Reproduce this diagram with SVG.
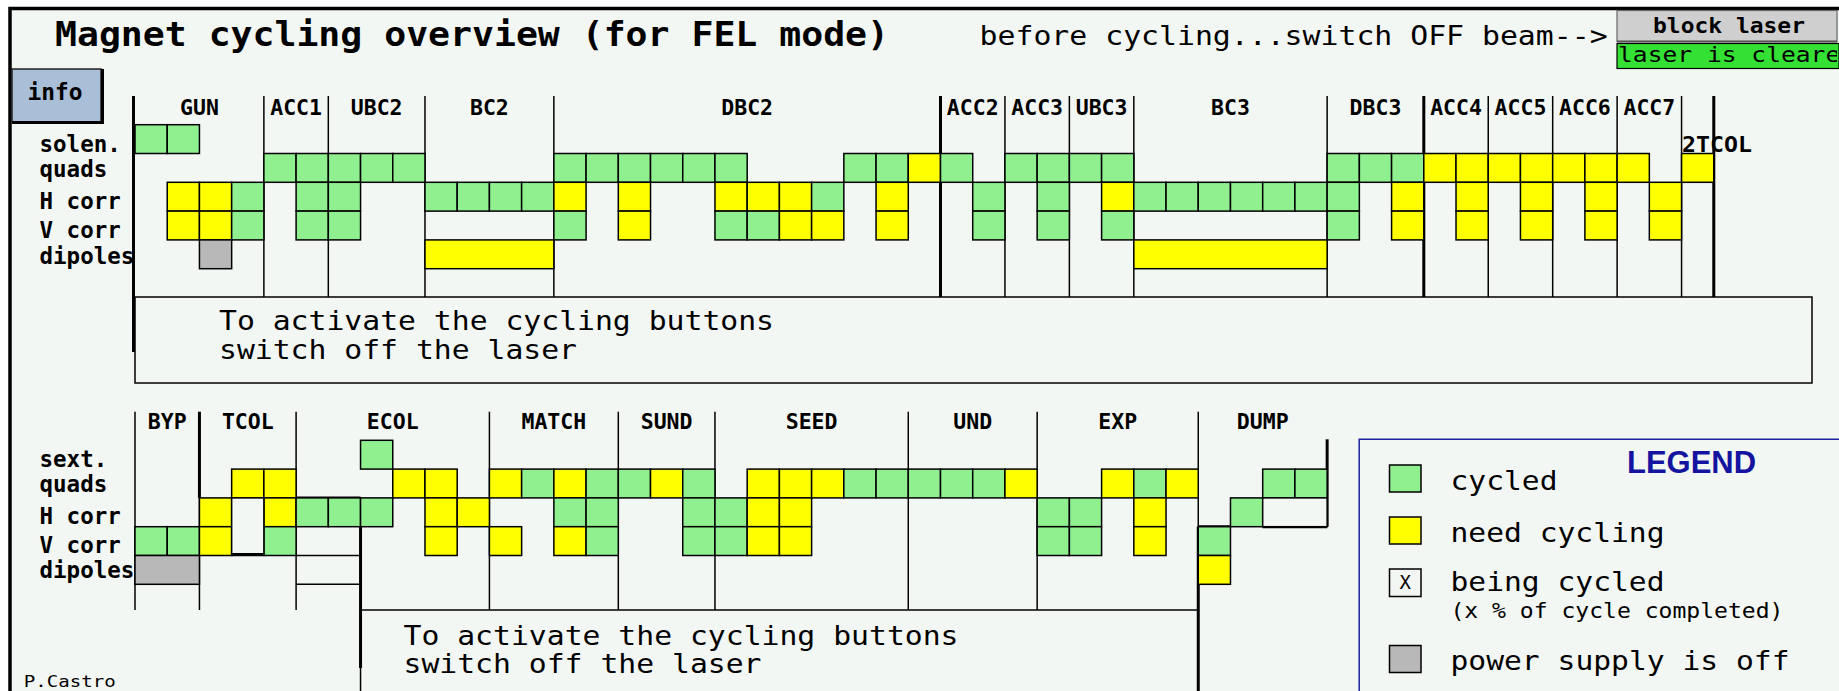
<svg xmlns="http://www.w3.org/2000/svg" xmlns:xlink="http://www.w3.org/1999/xlink" width="1839" height="691" viewBox="0 0 1839 691">
<style>
.t{font-family:'DejaVu Sans Mono','Liberation Mono',monospace;fill:#000}
.b{font-weight:bold}
.lab{font-size:21.5px;font-weight:bold;text-anchor:middle}
.row{font-size:22.5px;font-weight:bold}
.big{font-size:27px}
.G{fill:#90f090;stroke:#000;stroke-width:1.5}
.Y{fill:#ffff00;stroke:#000;stroke-width:1.5}
.O{fill:#b8b8b8;stroke:#000;stroke-width:1.5}
.E{fill:#f3f7f3;stroke:#000;stroke-width:1.5}
.ln{stroke:#000;stroke-width:1.5;fill:none}
.tk{stroke:#000;stroke-width:3;fill:none}
</style>
<defs>
<rect id="c" width="32.22" height="28.8"/>
<clipPath id="clipGreen"><rect x="1617" y="43.5" width="220" height="25"/></clipPath>
</defs>
<rect x="0" y="0" width="1839" height="691" fill="#ffffff"/>
<rect x="10" y="8.5" width="1850" height="700" fill="#f3f7f3" stroke="#000" stroke-width="3.5"/>

<g id="header">
<text class="t b" x="55" y="46" font-size="34" textLength="834" lengthAdjust="spacingAndGlyphs">Magnet cycling overview (for FEL mode)</text>
<text class="t" x="979.6" y="45" font-size="26" textLength="628" lengthAdjust="spacingAndGlyphs">before cycling...switch OFF beam--&gt;</text>
</g>

<g id="info-button">
<rect x="12" y="69" width="89" height="53" fill="#a9bfd7" stroke="#222" stroke-width="1.5"/>
<path d="M12,122.5 H102.5 V69" class="tk"/>
<text class="t b" x="27.5" y="100" font-size="23" textLength="55" lengthAdjust="spacingAndGlyphs">info</text>
</g>

<g id="block-laser">
<rect x="1617" y="10.5" width="220" height="31" fill="#cfcfcf" stroke="#666" stroke-width="1.2"/>
<line x1="1617" y1="41.5" x2="1837" y2="41.5" stroke="#555" stroke-width="2"/>
<text class="t b" x="1653" y="33" font-size="22" textLength="152" lengthAdjust="spacingAndGlyphs">block laser</text>
<rect x="1617" y="43.5" width="222" height="25" fill="#35e035" stroke="#000" stroke-width="1.2"/>
<g clip-path="url(#clipGreen)"><text class="t" x="1618" y="61.5" font-size="22" textLength="237" lengthAdjust="spacingAndGlyphs">laser is cleared</text></g>
</g>

<g id="row-labels-top">
<text class="t row" x="39.5" y="152">solen.</text>
<text class="t row" x="39.5" y="177">quads</text>
<text class="t row" x="39.5" y="209">H corr</text>
<text class="t row" x="39.5" y="238">V corr</text>
<text class="t row" x="39.5" y="264">dipoles</text>
</g>
<g id="row-labels-bottom">
<text class="t row" x="39.5" y="467">sext.</text>
<text class="t row" x="39.5" y="492">quads</text>
<text class="t row" x="39.5" y="524">H corr</text>
<text class="t row" x="39.5" y="553">V corr</text>
<text class="t row" x="39.5" y="578">dipoles</text>
</g>

<g id="connectors">
<line class="tk" x1="133.5" y1="96" x2="133.5" y2="352"/>
<line class="ln" x1="263.88" y1="96" x2="263.88" y2="297"/>
<line class="ln" x1="328.32" y1="96" x2="328.32" y2="297"/>
<line class="ln" x1="424.98" y1="96" x2="424.98" y2="297"/>
<line class="ln" x1="553.86" y1="96" x2="553.86" y2="297"/>
<line class="tk" x1="940.5" y1="96" x2="940.5" y2="297"/>
<line class="ln" x1="1004.94" y1="96" x2="1004.94" y2="297"/>
<line class="ln" x1="1069.38" y1="96" x2="1069.38" y2="297"/>
<line class="ln" x1="1133.82" y1="96" x2="1133.82" y2="297"/>
<line class="ln" x1="1327.14" y1="96" x2="1327.14" y2="297"/>
<line class="tk" x1="1423.8" y1="96" x2="1423.8" y2="297"/>
<line class="ln" x1="1488.24" y1="96" x2="1488.24" y2="297"/>
<line class="ln" x1="1552.68" y1="96" x2="1552.68" y2="297"/>
<line class="ln" x1="1617.12" y1="96" x2="1617.12" y2="297"/>
<line class="ln" x1="1681.56" y1="96" x2="1681.56" y2="297"/>
<line class="tk" x1="1713.78" y1="96" x2="1713.78" y2="297"/>

<line class="ln" x1="135" y1="411.7" x2="135" y2="610"/>
<line class="tk" x1="199.44" y1="411.7" x2="199.44" y2="497.9"/>
<line class="ln" x1="199.44" y1="497.9" x2="199.44" y2="610"/>
<line class="ln" x1="296.1" y1="411.7" x2="296.1" y2="610"/>
<line class="ln" x1="489.42" y1="411.7" x2="489.42" y2="610"/>
<line class="ln" x1="618.3" y1="411.7" x2="618.3" y2="610"/>
<line class="ln" x1="714.96" y1="411.7" x2="714.96" y2="610"/>
<line class="ln" x1="908.28" y1="411.7" x2="908.28" y2="610"/>
<line class="ln" x1="1037.16" y1="411.7" x2="1037.16" y2="610"/>
<line class="ln" x1="1198.26" y1="411.7" x2="1198.26" y2="526.7"/>
<line class="tk" x1="1198.26" y1="526.7" x2="1198.26" y2="691"/>
<line class="tk" x1="296.1" y1="497.9" x2="360.54" y2="497.9"/>
<line class="ln" x1="296.1" y1="555.5" x2="360.54" y2="555.5"/>
<line class="ln" x1="296.1" y1="584.3" x2="360.54" y2="584.3"/>
<line class="tk" x1="360.54" y1="526.7" x2="360.54" y2="668"/>
<line class="ln" x1="360.54" y1="610" x2="360.54" y2="691"/>
<line class="ln" x1="360.54" y1="610" x2="1198.26" y2="610"/>
<line class="tk" x1="1327.14" y1="439.3" x2="1327.14" y2="526.7"/>
<line class="tk" x1="1198.26" y1="526.7" x2="1230.48" y2="526.7"/>
<line class="tk" x1="1262.7" y1="526.7" x2="1327.14" y2="526.7"/>
</g>

<g id="top-message">
<rect class="ln" x="135" y="297" width="1677" height="86"/>
<text class="t big" x="219" y="330" textLength="555" lengthAdjust="spacingAndGlyphs">To activate the cycling buttons</text>
<text class="t big" x="219" y="359" textLength="358" lengthAdjust="spacingAndGlyphs">switch off the laser</text>
</g>

<g id="bottom-message">
<text class="t big" x="403.5" y="645" textLength="555" lengthAdjust="spacingAndGlyphs">To activate the cycling buttons</text>
<text class="t big" x="403.5" y="673" textLength="358" lengthAdjust="spacingAndGlyphs">switch off the laser</text>
</g>

<g id="GUN">
<text class="t lab" x="199.44" y="115">GUN</text>
<use xlink:href="#c" class="G" x="135" y="124.7"/><use xlink:href="#c" class="G" x="167.22" y="124.7"/>
<use xlink:href="#c" class="Y" x="167.22" y="182.3"/><use xlink:href="#c" class="Y" x="199.44" y="182.3"/><use xlink:href="#c" class="G" x="231.66" y="182.3"/>
<use xlink:href="#c" class="Y" x="167.22" y="211.1"/><use xlink:href="#c" class="Y" x="199.44" y="211.1"/><use xlink:href="#c" class="G" x="231.66" y="211.1"/>
<use xlink:href="#c" class="O" x="199.44" y="239.9"/>
</g>
<g id="ACC1">
<text class="t lab" x="296.1" y="115">ACC1</text>
<use xlink:href="#c" class="G" x="263.88" y="153.5"/><use xlink:href="#c" class="G" x="296.1" y="153.5"/>
<use xlink:href="#c" class="G" x="296.1" y="182.3"/><use xlink:href="#c" class="G" x="296.1" y="211.1"/>
</g>
<g id="UBC2">
<text class="t lab" x="376.65" y="115">UBC2</text>
<use xlink:href="#c" class="G" x="328.32" y="153.5"/><use xlink:href="#c" class="G" x="360.54" y="153.5"/><use xlink:href="#c" class="G" x="392.76" y="153.5"/>
<use xlink:href="#c" class="G" x="328.32" y="182.3"/><use xlink:href="#c" class="G" x="328.32" y="211.1"/>
</g>
<g id="BC2">
<text class="t lab" x="489.42" y="115">BC2</text>
<use xlink:href="#c" class="G" x="424.98" y="182.3"/><use xlink:href="#c" class="G" x="457.2" y="182.3"/><use xlink:href="#c" class="G" x="489.42" y="182.3"/><use xlink:href="#c" class="G" x="521.64" y="182.3"/>
<rect class="Y" x="424.98" y="239.9" width="128.88" height="28.8"/>
</g>
<g id="DBC2">
<text class="t lab" x="747.18" y="115">DBC2</text>
<use xlink:href="#c" class="G" x="553.86" y="153.5"/><use xlink:href="#c" class="G" x="586.08" y="153.5"/><use xlink:href="#c" class="G" x="618.3" y="153.5"/><use xlink:href="#c" class="G" x="650.52" y="153.5"/><use xlink:href="#c" class="G" x="682.74" y="153.5"/><use xlink:href="#c" class="G" x="714.96" y="153.5"/>
<use xlink:href="#c" class="G" x="843.84" y="153.5"/><use xlink:href="#c" class="G" x="876.06" y="153.5"/><use xlink:href="#c" class="Y" x="908.28" y="153.5"/>
<use xlink:href="#c" class="Y" x="553.86" y="182.3"/><use xlink:href="#c" class="Y" x="618.3" y="182.3"/><use xlink:href="#c" class="Y" x="714.96" y="182.3"/><use xlink:href="#c" class="Y" x="747.18" y="182.3"/><use xlink:href="#c" class="Y" x="779.4" y="182.3"/><use xlink:href="#c" class="G" x="811.62" y="182.3"/><use xlink:href="#c" class="Y" x="876.06" y="182.3"/>
<use xlink:href="#c" class="G" x="553.86" y="211.1"/><use xlink:href="#c" class="Y" x="618.3" y="211.1"/><use xlink:href="#c" class="G" x="714.96" y="211.1"/><use xlink:href="#c" class="G" x="747.18" y="211.1"/><use xlink:href="#c" class="Y" x="779.4" y="211.1"/><use xlink:href="#c" class="Y" x="811.62" y="211.1"/><use xlink:href="#c" class="Y" x="876.06" y="211.1"/>
</g>
<g id="ACC2">
<text class="t lab" x="972.72" y="115">ACC2</text>
<use xlink:href="#c" class="G" x="940.5" y="153.5"/>
<use xlink:href="#c" class="G" x="972.72" y="182.3"/><use xlink:href="#c" class="G" x="972.72" y="211.1"/>
</g>
<g id="ACC3">
<text class="t lab" x="1037.16" y="115">ACC3</text>
<use xlink:href="#c" class="G" x="1004.94" y="153.5"/><use xlink:href="#c" class="G" x="1037.16" y="153.5"/>
<use xlink:href="#c" class="G" x="1037.16" y="182.3"/><use xlink:href="#c" class="G" x="1037.16" y="211.1"/>
</g>
<g id="UBC3">
<text class="t lab" x="1101.6" y="115">UBC3</text>
<use xlink:href="#c" class="G" x="1069.38" y="153.5"/><use xlink:href="#c" class="G" x="1101.6" y="153.5"/>
<use xlink:href="#c" class="Y" x="1101.6" y="182.3"/><use xlink:href="#c" class="G" x="1101.6" y="211.1"/>
</g>
<g id="BC3">
<text class="t lab" x="1230.48" y="115">BC3</text>
<use xlink:href="#c" class="G" x="1133.82" y="182.3"/><use xlink:href="#c" class="G" x="1166.04" y="182.3"/><use xlink:href="#c" class="G" x="1198.26" y="182.3"/><use xlink:href="#c" class="G" x="1230.48" y="182.3"/><use xlink:href="#c" class="G" x="1262.7" y="182.3"/><use xlink:href="#c" class="G" x="1294.92" y="182.3"/>
<rect class="Y" x="1133.82" y="239.9" width="193.32" height="28.8"/>
</g>
<g id="DBC3">
<text class="t lab" x="1375.47" y="115">DBC3</text>
<use xlink:href="#c" class="G" x="1327.14" y="153.5"/><use xlink:href="#c" class="G" x="1359.36" y="153.5"/><use xlink:href="#c" class="G" x="1391.58" y="153.5"/>
<use xlink:href="#c" class="G" x="1327.14" y="182.3"/><use xlink:href="#c" class="Y" x="1391.58" y="182.3"/>
<use xlink:href="#c" class="G" x="1327.14" y="211.1"/><use xlink:href="#c" class="Y" x="1391.58" y="211.1"/>
</g>
<g id="ACC4">
<text class="t lab" x="1456.02" y="115">ACC4</text>
<use xlink:href="#c" class="Y" x="1423.8" y="153.5"/><use xlink:href="#c" class="Y" x="1456.02" y="153.5"/>
<use xlink:href="#c" class="Y" x="1456.02" y="182.3"/><use xlink:href="#c" class="Y" x="1456.02" y="211.1"/>
</g>
<g id="ACC5">
<text class="t lab" x="1520.46" y="115">ACC5</text>
<use xlink:href="#c" class="Y" x="1488.24" y="153.5"/><use xlink:href="#c" class="Y" x="1520.46" y="153.5"/>
<use xlink:href="#c" class="Y" x="1520.46" y="182.3"/><use xlink:href="#c" class="Y" x="1520.46" y="211.1"/>
</g>
<g id="ACC6">
<text class="t lab" x="1584.9" y="115">ACC6</text>
<use xlink:href="#c" class="Y" x="1552.68" y="153.5"/><use xlink:href="#c" class="Y" x="1584.9" y="153.5"/>
<use xlink:href="#c" class="Y" x="1584.9" y="182.3"/><use xlink:href="#c" class="Y" x="1584.9" y="211.1"/>
</g>
<g id="ACC7">
<text class="t lab" x="1649.34" y="115">ACC7</text>
<use xlink:href="#c" class="Y" x="1617.12" y="153.5"/>
<use xlink:href="#c" class="Y" x="1649.34" y="182.3"/><use xlink:href="#c" class="Y" x="1649.34" y="211.1"/>
</g>
<g id="TCOL2">
<text class="t b" x="1682" y="152" font-size="21.5" textLength="70" lengthAdjust="spacingAndGlyphs">2TCOL</text>
<use xlink:href="#c" class="Y" x="1681.56" y="153.5"/>
</g>

<g id="BYP">
<text class="t lab" x="167.22" y="429">BYP</text>
<use xlink:href="#c" class="G" x="135" y="526.7"/><use xlink:href="#c" class="G" x="167.22" y="526.7"/>
<rect class="O" x="135" y="555.5" width="64.44" height="28.8"/>
</g>
<g id="TCOL">
<text class="t lab" x="247.77" y="429">TCOL</text>
<use xlink:href="#c" class="Y" x="231.66" y="469.1"/><use xlink:href="#c" class="Y" x="263.88" y="469.1"/>
<use xlink:href="#c" class="Y" x="199.44" y="497.9"/><use xlink:href="#c" class="Y" x="263.88" y="497.9"/>
<use xlink:href="#c" class="Y" x="199.44" y="526.7"/><use xlink:href="#c" class="G" x="263.88" y="526.7"/>
<rect class="E" x="231.66" y="497.9" width="32.22" height="57.6"/>
<line class="tk" x1="231.66" y1="554.5" x2="263.88" y2="554.5"/>
</g>
<g id="ECOL">
<text class="t lab" x="392.76" y="429">ECOL</text>
<use xlink:href="#c" class="G" x="360.54" y="440.3"/>
<use xlink:href="#c" class="Y" x="392.76" y="469.1"/><use xlink:href="#c" class="Y" x="424.98" y="469.1"/>
<use xlink:href="#c" class="G" x="296.1" y="497.9"/><use xlink:href="#c" class="G" x="328.32" y="497.9"/><use xlink:href="#c" class="G" x="360.54" y="497.9"/><use xlink:href="#c" class="Y" x="424.98" y="497.9"/><use xlink:href="#c" class="Y" x="457.2" y="497.9"/>
<use xlink:href="#c" class="Y" x="424.98" y="526.7"/>
</g>
<g id="MATCH">
<text class="t lab" x="553.86" y="429">MATCH</text>
<use xlink:href="#c" class="Y" x="489.42" y="469.1"/><use xlink:href="#c" class="G" x="521.64" y="469.1"/><use xlink:href="#c" class="Y" x="553.86" y="469.1"/><use xlink:href="#c" class="G" x="586.08" y="469.1"/>
<use xlink:href="#c" class="G" x="553.86" y="497.9"/><use xlink:href="#c" class="G" x="586.08" y="497.9"/>
<use xlink:href="#c" class="Y" x="489.42" y="526.7"/><use xlink:href="#c" class="Y" x="553.86" y="526.7"/><use xlink:href="#c" class="G" x="586.08" y="526.7"/>
</g>
<g id="SUND">
<text class="t lab" x="666.63" y="429">SUND</text>
<use xlink:href="#c" class="G" x="618.3" y="469.1"/><use xlink:href="#c" class="Y" x="650.52" y="469.1"/><use xlink:href="#c" class="G" x="682.74" y="469.1"/>
<use xlink:href="#c" class="G" x="682.74" y="497.9"/><use xlink:href="#c" class="G" x="682.74" y="526.7"/>
</g>
<g id="SEED">
<text class="t lab" x="811.62" y="429">SEED</text>
<use xlink:href="#c" class="Y" x="747.18" y="469.1"/><use xlink:href="#c" class="Y" x="779.4" y="469.1"/><use xlink:href="#c" class="Y" x="811.62" y="469.1"/><use xlink:href="#c" class="G" x="843.84" y="469.1"/><use xlink:href="#c" class="G" x="876.06" y="469.1"/>
<use xlink:href="#c" class="G" x="714.96" y="497.9"/><use xlink:href="#c" class="Y" x="747.18" y="497.9"/><use xlink:href="#c" class="Y" x="779.4" y="497.9"/>
<use xlink:href="#c" class="G" x="714.96" y="526.7"/><use xlink:href="#c" class="Y" x="747.18" y="526.7"/><use xlink:href="#c" class="Y" x="779.4" y="526.7"/>
</g>
<g id="UND">
<text class="t lab" x="972.72" y="429">UND</text>
<use xlink:href="#c" class="G" x="908.28" y="469.1"/><use xlink:href="#c" class="G" x="940.5" y="469.1"/><use xlink:href="#c" class="G" x="972.72" y="469.1"/><use xlink:href="#c" class="Y" x="1004.94" y="469.1"/>
</g>
<g id="EXP">
<text class="t lab" x="1117.71" y="429">EXP</text>
<use xlink:href="#c" class="Y" x="1101.6" y="469.1"/><use xlink:href="#c" class="G" x="1133.82" y="469.1"/><use xlink:href="#c" class="Y" x="1166.04" y="469.1"/>
<use xlink:href="#c" class="G" x="1037.16" y="497.9"/><use xlink:href="#c" class="G" x="1069.38" y="497.9"/><use xlink:href="#c" class="Y" x="1133.82" y="497.9"/>
<use xlink:href="#c" class="G" x="1037.16" y="526.7"/><use xlink:href="#c" class="G" x="1069.38" y="526.7"/><use xlink:href="#c" class="Y" x="1133.82" y="526.7"/>
</g>
<g id="DUMP">
<text class="t lab" x="1262.7" y="429">DUMP</text>
<use xlink:href="#c" class="G" x="1262.7" y="469.1"/><use xlink:href="#c" class="G" x="1294.92" y="469.1"/>
<use xlink:href="#c" class="G" x="1230.48" y="497.9"/>
<rect class="E" x="1262.7" y="497.9" width="64.44" height="28.8"/>
<use xlink:href="#c" class="G" x="1198.26" y="526.7"/>
<use xlink:href="#c" class="Y" x="1198.26" y="555.5"/>
</g>

<g id="legend">
<path d="M1359.2,691 V439.3 H1839" fill="none" stroke="#2020a0" stroke-width="1.5"/>
<text x="1627" y="473" font-family="'Liberation Sans',Arial,sans-serif" font-weight="bold" font-size="32" fill="#1414a0" textLength="129" lengthAdjust="spacingAndGlyphs">LEGEND</text>
<rect class="G" x="1389.5" y="465" width="31.5" height="27"/>
<text class="t big" x="1450.5" y="490" textLength="107" lengthAdjust="spacingAndGlyphs">cycled</text>
<rect class="Y" x="1389.5" y="517" width="31.5" height="27"/>
<text class="t big" x="1450.5" y="541.5" textLength="214" lengthAdjust="spacingAndGlyphs">need cycling</text>
<rect class="E" x="1389.5" y="569" width="31.5" height="27.5"/>
<text class="t" x="1405.2" y="589" font-size="19" text-anchor="middle">X</text>
<text class="t big" x="1450.5" y="591" textLength="214" lengthAdjust="spacingAndGlyphs">being cycled</text>
<text class="t" x="1450.5" y="618" font-size="21" textLength="333" lengthAdjust="spacingAndGlyphs">(x % of cycle completed)</text>
<rect class="O" x="1389.5" y="645.5" width="31.5" height="27"/>
<text class="t big" x="1450.5" y="670" textLength="339" lengthAdjust="spacingAndGlyphs">power supply is off</text>
</g>

<text class="t" x="23.7" y="687" font-size="16" textLength="92" lengthAdjust="spacingAndGlyphs">P.Castro</text>
</svg>
